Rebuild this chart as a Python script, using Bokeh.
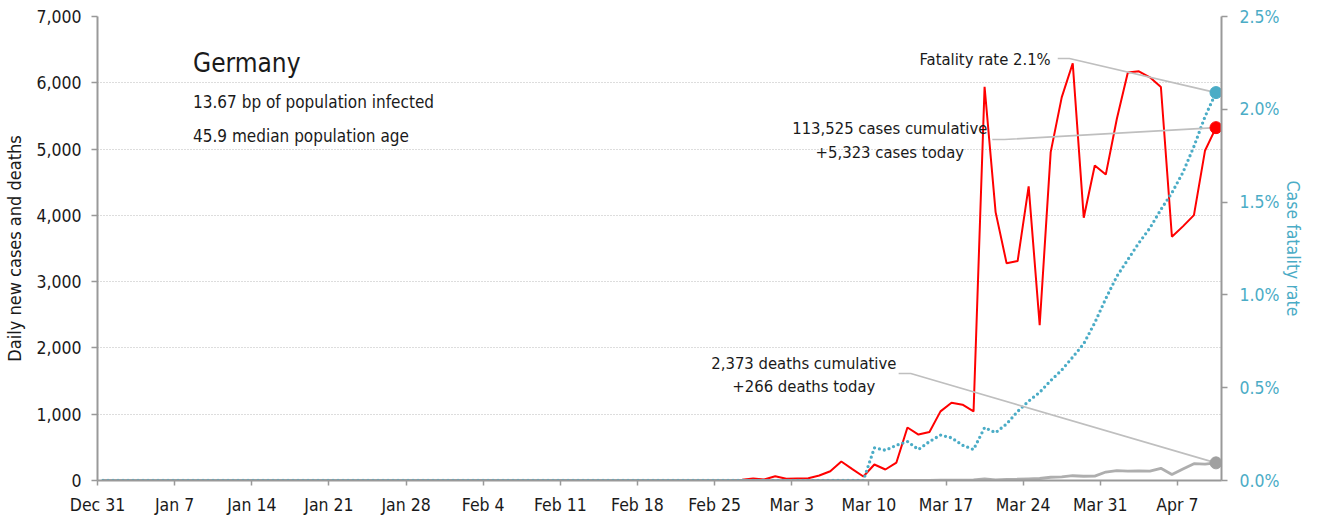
import pandas as pd
from bokeh.plotting import figure
from bokeh.models import Range1d, LinearAxis, FixedTicker, NumeralTickFormatter, PrintfTickFormatter, Label, ColumnDataSource
from bokeh.embed import file_html
from bokeh.resources import INLINE

FONT = "DejaVu Sans Condensed"

# ---- data ----
start_date = "2019-12-31"
end_date = "2020-04-10"

cases_dec_jan = [0] * 28 + [1, 3, 0, 1]                      # Dec 31 - Jan 31
cases_feb = [3, 0, 2, 2, 0, 0, 0, 1, 1, 0, 2, 0, 0, 0, 0,
             0, 0, 0, 0, 0, 0, 0, 0, 0, 0, 2, 10, 30, 15]     # Feb 1 - Feb 29
cases_mar = [65, 25, 30, 35, 75, 140, 287, 172, 60, 241,
             166, 271, 800, 693, 733, 1043, 1174, 1144, 1042, 5940,
             4049, 3276, 3311, 4438, 2342, 4954, 5780, 6294, 3965, 4751, 4615]
cases_apr = [5453, 6156, 6174, 6082, 5936, 3677, 3834, 4003, 4974, 5323]

deaths_early = [0] * 69                                        # Dec 31 - Mar 8
deaths_mar = [0, 2, 1, 0, 3, 0, 3, 4, 4, 5, 8, 25, 10, 18, 20, 25,
              30, 49, 55, 72, 64, 66, 128]                     # Mar 9 - Mar 31
deaths_apr = [149, 140, 145, 141, 184, 92, 173, 254, 246, 266]

cfr_early = [0.0] * 69                                         # Dec 31 - Mar 8 (%)
cfr_mar = [0.0, 0.176, 0.163, 0.19, 0.21, 0.167, 0.21, 0.245, 0.23, 0.19,
           0.167, 0.285, 0.258, 0.305, 0.372, 0.428, 0.475, 0.538, 0.595,
           0.665, 0.737, 0.85, 0.98]                           # Mar 9 - Mar 31
cfr_apr = [1.10, 1.19, 1.28, 1.36, 1.46, 1.55, 1.66, 1.80, 1.96, 2.09]

tick_dates = ["2019-12-31", "2020-01-07", "2020-01-14", "2020-01-21", "2020-01-28",
              "2020-02-04", "2020-02-11", "2020-02-18", "2020-02-25", "2020-03-03",
              "2020-03-10", "2020-03-17", "2020-03-24", "2020-03-31", "2020-04-07"]
tick_labels = ["Dec 31", "Jan 7", "Jan 14", "Jan 21", "Jan 28", "Feb 4", "Feb 11",
               "Feb 18", "Feb 25", "Mar 3", "Mar 10", "Mar 17", "Mar 24", "Mar 31", "Apr 7"]
left_ticks = [0, 1000, 2000, 3000, 4000, 5000, 6000, 7000]
right_ticks = [0.0, 0.5, 1.0, 1.5, 2.0, 2.5]

cases = cases_dec_jan + cases_feb + cases_mar + cases_apr
deaths = deaths_early + deaths_mar + deaths_apr
cfr = cfr_early + cfr_mar + cfr_apr

dates = pd.date_range(start_date, end_date, freq="D") + pd.Timedelta(hours=12)
src = ColumnDataSource(dict(x=dates, cases=cases, deaths=deaths, cfr=cfr))

# ---- colours ----
RED = "#FF0000"
BLUE = "#4BACC6"
GRAY = "#A0A0A0"
LEADER = "#BFBFBF"
AXIS = "#999999"
TXT = "#1a1a1a"

x0 = pd.Timestamp(start_date)
x1 = pd.Timestamp(end_date) + pd.Timedelta(days=1)

p = figure(frame_width=1124, frame_height=464, x_axis_type="datetime",
           x_range=Range1d(x0, x1), y_range=Range1d(0, 7000),
           output_backend="svg", toolbar_location=None,
           min_border_left=97, min_border_right=70, min_border_top=16, min_border_bottom=30)
p.outline_line_color = None
p.background_fill_color = "white"
p.extra_y_ranges = {"cfr": Range1d(0, 2.5)}

# grid
p.xgrid.grid_line_color = None
p.ygrid.grid_line_color = "#BBBBBB"
p.ygrid.grid_line_dash = "1 2"
p.ygrid.grid_line_width = 1
p.ygrid.ticker = FixedTicker(ticks=left_ticks)

# x axis
tick_ms = [pd.Timestamp(t).value / 1e6 for t in tick_dates]
xa = p.xaxis[0]
xa.ticker = FixedTicker(ticks=tick_ms)
xa.major_label_overrides = {t: l for t, l in zip(tick_ms, tick_labels)}
xa.axis_line_color = AXIS
xa.axis_line_width = 2
xa.major_tick_line_color = AXIS
xa.major_tick_line_width = 1.5
xa.major_tick_in = 0
xa.major_tick_out = 5
xa.minor_tick_line_color = None
xa.major_label_standoff = 9
xa.major_label_text_font = FONT
xa.major_label_text_font_size = "17.5px"
xa.major_label_text_color = TXT

# left axis
ya = p.yaxis[0]
ya.ticker = FixedTicker(ticks=left_ticks)
ya.formatter = NumeralTickFormatter(format="0,0")
ya.axis_line_color = AXIS
ya.axis_line_width = 2
ya.major_tick_line_color = AXIS
ya.major_tick_line_width = 1.5
ya.major_tick_in = 0
ya.major_tick_out = 6
ya.minor_tick_line_color = None
ya.major_label_standoff = 10
ya.major_label_text_font = FONT
ya.major_label_text_font_size = "17.5px"
ya.major_label_text_color = TXT
ya.axis_label = "Daily new cases and deaths"
ya.axis_label_text_font = FONT
ya.axis_label_text_font_size = "18px"
ya.axis_label_text_font_style = "normal"
ya.axis_label_text_color = TXT
ya.axis_label_standoff = 8

# right axis
ra = LinearAxis(y_range_name="cfr", ticker=FixedTicker(ticks=right_ticks),
                formatter=PrintfTickFormatter(format="%.1f%%"))
ra.axis_line_color = AXIS
ra.axis_line_width = 2
ra.major_tick_line_color = AXIS
ra.major_tick_line_width = 1.5
ra.major_tick_in = 0
ra.major_tick_out = 6
ra.minor_tick_line_color = None
ra.major_label_standoff = 12
ra.major_label_text_font = FONT
ra.major_label_text_font_size = "17.5px"
ra.major_label_text_color = BLUE
ra.axis_label = "Case fatality rate"
ra.axis_label_text_font = FONT
ra.axis_label_text_font_size = "17.5px"
ra.axis_label_text_font_style = "normal"
ra.axis_label_text_color = BLUE
ra.axis_label_standoff = 1
p.add_layout(ra, "right")

# series
p.line("x", "cases", source=src, line_color=RED, line_width=2)
p.line("x", "deaths", source=src, line_color=GRAY, line_width=2.8, line_alpha=0.85)
p.line("x", "cfr", source=src, y_range_name="cfr", line_color=BLUE, line_width=3.3,
       line_dash="0 5", line_cap="round")

# leader lines
xl = dates[-1]
d = pd.Timedelta
p.line([x0 + d(days=87.14), x0 + d(days=88.2), xl], [2.274, 2.274, cfr[-1]],
       y_range_name="cfr", line_color=LEADER, line_width=1.6)
p.line([x0 + d(days=81.2), x0 + d(days=82.3), xl], [5144, 5144, cases[-1]],
       line_color=LEADER, line_width=1.6)
p.line([x0 + d(days=72.7), x0 + d(days=73.8), xl], [1614, 1614, deaths[-1]],
       line_color=LEADER, line_width=1.6)

# end markers
p.scatter([xl], [cfr[-1]], y_range_name="cfr", size=12, color=BLUE)
p.scatter([xl], [cases[-1]], size=12, color=RED)
p.scatter([xl], [deaths[-1]], size=12, color=GRAY)

# text
def lab(x, y, text, size, align="left", color=TXT, style="normal", rng="default"):
    p.add_layout(Label(x=x, y=y, text=text, text_font=FONT, text_font_size=size,
                       text_align=align, text_baseline="alphabetic", text_color=color,
                       text_font_style=style, y_range_name=rng))

lab(x0 + d(days=8.67), 6304, "Germany", "26px")
lab(x0 + d(days=8.67), 5710, "13.67 bp of population infected", "17px")
lab(x0 + d(days=8.67), 5197, "45.9 median population age", "17px")
lab(x0 + d(days=86.5), 6357, "Fatality rate 2.1%", "16.5px", align="right")
lab(x0 + d(days=71.9), 5316, "113,525 cases cumulative", "16.5px", align="center")
lab(x0 + d(days=71.9), 4954, "+5,323 cases today", "16.5px", align="center")
lab(x0 + d(days=64.1), 1771, "2,373 deaths cumulative", "16.5px", align="center")
lab(x0 + d(days=64.1), 1424, "+266 deaths today", "16.5px", align="center")

open("out.html", "w").write(file_html(p, INLINE))
